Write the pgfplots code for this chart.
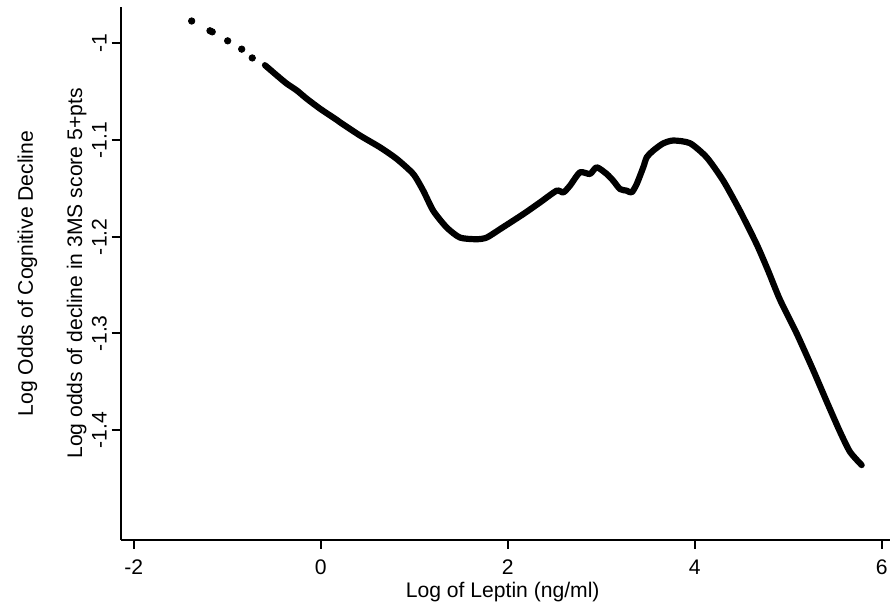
\documentclass[border=0pt]{standalone}
\usepackage{fontspec}
\setmainfont{Liberation Sans}
\usepackage{pgfplots}
\pgfplotsset{compat=1.18}
\begin{document}
\begin{tikzpicture}
\begin{axis}[
  scale only axis,
  width=384.65bp, height=266.5bp,
  xmin=-2.139, xmax=6.089,
  ymin=-1.5136, ymax=-0.9623,
  axis x line=bottom, axis y line=left,
  axis line style={-, line width=1bp, black},
  tick style={line width=1bp, black},
  tick align=outside, major tick length=4.5bp,
  xtick={-2,0,2,4,6}, xticklabels={-2,0,2,4,6},
  ytick={-1.4,-1.3,-1.2,-1.1,-1}, yticklabels={-1.4,-1.3,-1.2,-1.1,-1},
  ticklabel style={font=\fontsize{10.6}{12.7}\selectfont},
  xticklabel style={anchor=base, yshift=-12.5bp},
  yticklabel style={xshift=-2.5bp, rotate=90, anchor=base},
  clip=false,
]
\addplot[only marks, mark=*, mark size=1.6bp, black] coordinates {
(-1.380,-0.9768) (-1.184,-0.9869) (-1.160,-0.9880) (-0.995,-0.9973) (-0.845,-1.0059) (-0.732,-1.0150)
};
\addplot[black, line width=3.1bp, line cap=round, line join=round, smooth, tension=0.4] coordinates {
(-0.596,-1.0225) (-0.471,-1.0329) (-0.364,-1.0415) (-0.257,-1.0485) (-0.150,-1.0571)
(-0.007,-1.0675) (0.171,-1.0790) (0.206,-1.0815) (0.420,-1.0952) (0.634,-1.1074)
(0.813,-1.1194) (0.990,-1.1350) (1.097,-1.1523) (1.204,-1.1731) (1.348,-1.1904)
(1.490,-1.2008) (1.668,-1.2025) (1.775,-1.2008) (1.918,-1.1921) (2.167,-1.1765)
(2.345,-1.1645) (2.524,-1.1523) (2.595,-1.1541) (2.666,-1.1471) (2.773,-1.1333)
(2.880,-1.1350) (2.952,-1.1281) (3.059,-1.1350) (3.129,-1.1420) (3.201,-1.1506)
(3.273,-1.1523) (3.326,-1.1541) (3.380,-1.1454) (3.450,-1.1281) (3.487,-1.1178)
(3.557,-1.1108) (3.661,-1.1035) (3.771,-1.1004) (3.950,-1.1032) (4.128,-1.1178)
(4.306,-1.1420) (4.484,-1.1731) (4.663,-1.2077) (4.787,-1.2354) (4.912,-1.2650)
(5.091,-1.3000) (5.268,-1.3380) (5.412,-1.3704) (5.554,-1.4016) (5.661,-1.4224)
(5.786,-1.4361)
};
\end{axis}
\node[font=\fontsize{10.6}{12.7}\selectfont, anchor=base] at (191bp,-28.5bp) {Log of Leptin (ng/ml)};
\node[font=\fontsize{10.6}{12.7}\selectfont, rotate=90, anchor=base] at (-19.35bp,133.25bp) {Log odds of decline in 3MS score 5+pts};
\node[font=\fontsize{10.6}{12.7}\selectfont, rotate=90, anchor=base] at (-43.85bp,133.25bp) {Log Odds of Cognitive Decline};
\pgfresetboundingbox
\path[use as bounding box] (-60.35bp,-34.5bp) rectangle (384.65bp,270bp);
\end{tikzpicture}
\end{document}
